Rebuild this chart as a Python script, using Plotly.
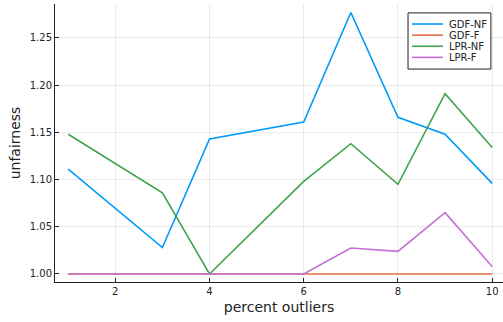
import plotly.graph_objects as go

x = [1, 3, 4, 6, 7, 8, 9, 10]
gdf_nf = [1.111, 1.028, 1.143, 1.161, 1.277, 1.166, 1.148, 1.096]
gdf_f = [1.0, 1.0, 1.0, 1.0, 1.0, 1.0, 1.0, 1.0]
lpr_nf = [1.148, 1.086, 1.000, 1.098, 1.138, 1.095, 1.191, 1.134]
lpr_f = [1.0, 1.0, 1.0, 1.0, 1.0275, 1.024, 1.065, 1.008]

names = ["GDF-NF", "GDF-F", "LPR-NF", "LPR-F"]
colors = ["#009AFA", "#E36F47", "#3EA44E", "#C271D2"]
series = [gdf_nf, gdf_f, lpr_nf, lpr_f]

fig = go.Figure()
for n, c, s in zip(names, colors, series):
    fig.add_trace(go.Scatter(x=x, y=s, mode="lines", name=n,
                             line=dict(color=c, width=1.6), showlegend=False))

# compact legend box (Julia/GR style), placed in paper coordinates
box_x0, box_x1, box_y0, box_y1 = 0.788, 0.973, 0.766, 0.968
row_y0, row_dy = 0.928, 0.0400
line_x0, line_x1, text_x = 0.797, 0.866, 0.875
fig.add_shape(type="rect", xref="paper", yref="paper",
              x0=box_x0, x1=box_x1, y0=box_y0, y1=box_y1,
              line=dict(color="#222", width=1), fillcolor="white", layer="above")
for i, (n, c) in enumerate(zip(names, colors)):
    yy = row_y0 - i * row_dy
    fig.add_shape(type="line", xref="paper", yref="paper",
                  x0=line_x0, x1=line_x1, y0=yy, y1=yy,
                  line=dict(color=c, width=1.6), layer="above")
    fig.add_annotation(xref="paper", yref="paper", x=text_x, y=yy, text=n,
                       showarrow=False, xanchor="left", yanchor="middle",
                       font=dict(size=10, color="#222"))

font = "DejaVu Sans, sans-serif"
fig.update_layout(
    width=503, height=322,
    margin=dict(l=55, r=0, t=4, b=40),
    paper_bgcolor="white", plot_bgcolor="white",
    font=dict(family=font, color="#222"),
    showlegend=False,
    xaxis=dict(range=[0.72, 10.23], tickvals=[2, 4, 6, 8, 10],
               ticks="inside", ticklen=4, tickcolor="#222",
               showline=True, linecolor="#222", linewidth=1,
               showgrid=True, gridcolor="rgba(0,0,0,0.08)", gridwidth=0.5,
               zeroline=False, tickfont=dict(size=10),
               title=dict(text="percent outliers", font=dict(size=14), standoff=6)),
    yaxis=dict(range=[0.9915, 1.286], tickvals=[1.0, 1.05, 1.1, 1.15, 1.2, 1.25],
               tickformat=".2f",
               ticks="inside", ticklen=4, tickcolor="#222",
               showline=True, linecolor="#222", linewidth=1,
               showgrid=True, gridcolor="rgba(0,0,0,0.08)", gridwidth=0.5,
               zeroline=False, tickfont=dict(size=10),
               title=dict(text="unfairness", font=dict(size=14), standoff=5)),
)

fig.write_html("out.html", config={"displayModeBar": False},
               post_script="document.body.style.margin='0';document.body.style.overflow='hidden';")
